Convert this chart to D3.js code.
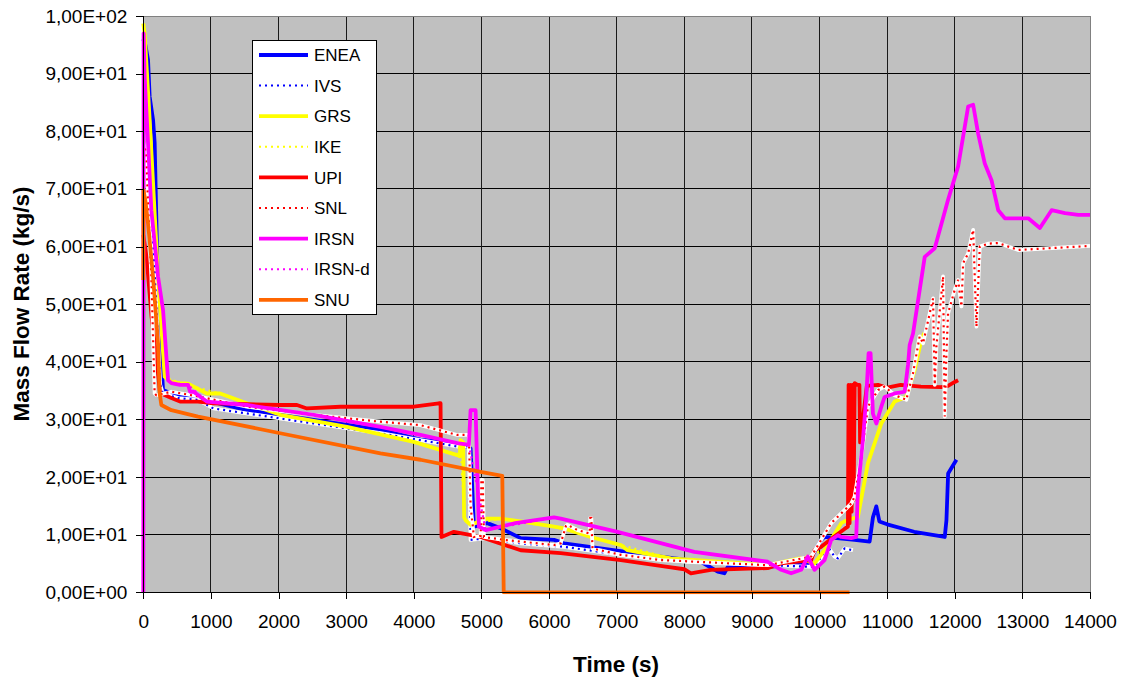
<!DOCTYPE html>
<html><head><meta charset="utf-8">
<script src="https://cdn.jsdelivr.net/npm/d3@7"></script>
<style>body{margin:0;background:#fff;} svg{display:block;}</style>
</head><body><svg id="c" width="1121" height="677"></svg>
<script>
// ---- tick data ----
const xTicks = [0,1000,2000,3000,4000,5000,6000,7000,8000,9000,10000,11000,12000,13000,14000];
const yTicks = [0,10,20,30,40,50,60,70,80,90,100];
const yTickLabels = ["0,00E+00","1,00E+01","2,00E+01","3,00E+01","4,00E+01","5,00E+01","6,00E+01","7,00E+01","8,00E+01","9,00E+01","1,00E+02"];

// ---- series meta ----
const seriesNames  = ["ENEA","IVS","GRS","IKE","UPI","SNL","IRSN","IRSN-d","SNU"];
const seriesColors = ["#0000ff","#0000ff","#ffff00","#ffff00","#ff0000","#ff0000","#ff00ff","#ff00ff","#ff6600"];
const seriesDotted = [false,true,false,true,false,true,false,true,false];

// ---- series values (time s, mass flow kg/s) ----
const eneaT = [0,30,70,94,144,168,220,292,415,662,1037,1532,2519,3507,4099,4593,4791,4840,4889,5087,5284,5580,6074,6222,7654,8247,8495,8593,8643,9235,9827,10025,10074,10519,10741,10790,10840,10885,11000,11400,11852,11877,11902,12025];
const eneaV = [96,95,92.4,86,82,78,50,35.1,34.5,33.9,33,31.6,29.9,28.2,26.5,25.9,25.2,25,11.4,12,11.1,9.4,9.1,8.5,6.2,5.3,3.6,3.3,4.4,4.4,5,9.1,9.6,9.1,8.8,13,14.9,12.3,11.8,10.5,9.6,12.5,20.6,23];

const ivsT = [0,60,150,250,292,514,810,1037,2519,3507,4099,4643,4815,4840,5087,5580,6222,7062,8050,9235,9926,10124,10222,10272,10370,10494];
const ivsV = [90,80,60,36,34.5,33.7,33.4,31.9,29.3,27.6,26.4,25.3,25.3,9.1,9.4,8.5,7.9,6.5,5.3,4.7,4.4,7.9,6.2,5.9,7.6,7.3];

const grsT = [0,20,94,218,316,415,543,662,939,1136,1532,2025,3013,4000,4643,4680,4692,4730,4745,4766,4840,5087,5284,5580,6074,6222,6617,7062,7161,7802,8888,9235,9704,9926,10074,10321,10370,10568,10716,10914,11111,11284,11407,11506,11550];
const grsV = [98.7,97,82,54.8,37.4,36.5,36.3,36.2,34.5,34.5,32.8,30.8,28.7,26.1,23.8,23.6,26.4,26,13,12.5,11.7,12.8,12.8,12.3,11.4,11.1,9.6,8.2,7.3,5.9,5,4.7,5.9,5,7.3,12,12.3,13.1,22.4,29.3,33.1,33.9,38.6,43.8,45];

const ikeT = [0,94,218,316,543,1136,2025,3013,4000,4643,4692,4745,4840,5284,6074,7062,7802,8888,9235,9704,10074,10321,10568,10716,10914,11111,11284,11407,11500];
const ikeV = [98,82,54.8,37.4,36.3,34.5,30.8,28.7,26.1,23.8,26.4,13,11.7,12.8,11.4,8.2,5.9,5,4.7,5.9,7.3,12,13.1,22.4,29.3,33.1,33.9,38.6,43.5];

const upiT = [0,50,120,200,247,415,543,810,1037,2025,2272,2420,2914,3507,4000,4370,4396,4410,4593,4988,5580,6173,7062,7700,8000,8099,8200,8395,9235,9432,9877,9926,10025,10200,10370,10420,10430,10445,10460,10475,10490,10505,10520,10560,10590,10600,10700,10865,11000,11200,11500,11800,11900,12000,12050];
const upiV = [62,58,48,40,34.6,33.7,33.1,33.1,32.8,32.5,32.5,31.9,32.2,32.2,32.2,32.8,32.8,9.6,10.5,9.6,7.3,6.8,5.6,4.5,4,3.3,3.5,3.9,4.2,5,5.6,7.3,7.9,9.5,11,11.4,36,12,36,14,36,16,36.3,36,36,26,35.8,36,35.5,36,35.7,35.6,35.8,36.5,36.8];

const snlT = [0,44,70,119,168,193,415,810,1532,2519,3507,4099,4643,4815,4840,4889,4990,5000,5020,5037,5333,6074,6173,6250,6272,6420,6600,6610,6625,6643,7062,7654,9235,9877,10173,10469,10519,10617,10716,10865,10963,11111,11284,11383,11481,11531,11679,11704,11728,11827,11852,11877,11901,12000,12050,12099,12124,12198,12272,12321,12370,12500,12643,12939,14000];
const snlV = [78,76.2,67.5,54.8,34.5,34.2,34.8,34,32.2,30.8,29.6,29,27.3,27.3,15,9.6,9.8,19.5,19.5,9.6,9.1,8.2,8.5,11.5,11.7,10.8,10.2,12.9,12.9,7.6,6.5,5.6,4.7,6.2,12,15.4,16.6,23.5,32.2,35.1,35.7,34.2,33.4,38,44.4,43.2,51,36,42.6,54.8,30.5,41.5,48.4,52.5,54.2,49.6,57.1,58.8,62.9,46.1,60,60.5,60.6,59.4,60.1];

const irsnT = [0,5,20,70,119,218,292,366,415,543,662,692,743,939,1532,2519,3507,4099,4643,4815,4840,4914,4963,5062,5500,6074,6173,7013,8148,9235,9432,9580,9728,9827,9926,10074,10173,10272,10321,10469,10543,10568,10642,10691,10726,10755,10790,10840,10914,10963,11111,11259,11309,11333,11383,11556,11704,11901,12050,12198,12272,12346,12444,12544,12643,12741,13087,13259,13432,13630,13827,14000];
const irsnV = [0,97,89.5,78,66.3,54.8,49,36.8,36.3,36,36,34.8,34.8,33.1,32.5,30.8,28.7,27.3,25.9,25.6,31.6,31.6,11.4,10.8,12,13,12.8,10.5,7,5.3,3.9,3.3,3.9,6.2,3.9,5.6,9.1,9.9,9.6,9.4,9.6,17.8,26.4,33.9,41.5,41.5,31,29.3,32.2,33.9,34.5,34.8,39.5,42.9,44.9,58.2,59.7,68.1,73.9,84.3,84.6,79.6,74.4,71.5,66.3,64.9,64.9,63.2,66.3,65.8,65.5,65.5];

const irsndT = [5,20,70,119,218,292,366,415,662,939,1532,2519,3507,4099,4643,4815,5062,6074,7013,8148,9235];
const irsndV = [97,89.5,78,66.3,54.8,49,36.8,36.3,36,33.1,32.5,30.8,28.7,27.3,25.9,25.6,10.8,13,10.5,7,5.3];

const snuT = [0,2,30,70,144,218,242,267,415,810,2025,3507,4099,4988,5309,5330,10444];
const snuV = [54.2,69.8,68,64,54.8,43.2,34.5,32.5,31.6,30.5,27.6,24.1,23,20.9,20.2,0,0];

const seriesT = [eneaT,ivsT,grsT,ikeT,upiT,snlT,irsnT,irsndT,snuT];
const seriesV = [eneaV,ivsV,grsV,ikeV,upiV,snlV,irsnV,irsndV,snuV];

// ---- layout ----
const L = 143.3, R = 1090, T = 16, B = 592.3;
const svg = d3.select("#c");
const x = d3.scaleLinear().domain([0,14000]).range([L,R]);
const y = d3.scaleLinear().domain([0,100]).range([B,T]);
const tickFont = "'Liberation Sans', Arial, sans-serif";

svg.append("rect").attr("x",L).attr("y",T).attr("width",R-L).attr("height",B-T).attr("fill","#c0c0c0");

// grid
const g = svg.append("g").attr("shape-rendering","crispEdges");
g.selectAll("line.h").data(yTicks.slice(1,-1)).join("line")
  .attr("x1",L).attr("x2",R).attr("y1",d=>y(d)).attr("y2",d=>y(d))
  .attr("stroke","#000").attr("stroke-width",1);
g.selectAll("line.v").data(xTicks.slice(1,-1)).join("line")
  .attr("y1",T).attr("y2",B).attr("x1",d=>x(d)).attr("x2",d=>x(d))
  .attr("stroke","#1a1a1a").attr("stroke-width",1);
g.append("line").attr("x1",L).attr("x2",R).attr("y1",T).attr("y2",T).attr("stroke","#808080");
g.append("line").attr("x1",R).attr("x2",R).attr("y1",T).attr("y2",B).attr("stroke","#808080");

// clip
svg.append("clipPath").attr("id","pc").append("rect").attr("x",L-3).attr("y",T).attr("width",R-L+3).attr("height",B-T+2);

const line = d3.line().x(d=>x(d[0])).y(d=>y(d[1]));
const plot = svg.append("g").attr("clip-path","url(#pc)");
seriesNames.forEach((name,i)=>{
  const pts = seriesT[i].map((t,k)=>[t, seriesV[i][k]]);
  if (seriesDotted[i]) {
    if (name === "IVS" || name === "SNL") {
      plot.append("path").attr("d",line(pts)).attr("fill","none").attr("stroke","#ffffff")
        .attr("stroke-width",3.8).attr("stroke-linejoin","round");
    }
    plot.append("path").attr("d",line(pts)).attr("fill","none").attr("stroke",seriesColors[i])
      .attr("stroke-width",2.2).attr("stroke-dasharray","2 4");
  } else {
    plot.append("path").attr("d",line(pts)).attr("fill","none").attr("stroke",seriesColors[i])
      .attr("stroke-width",3.8).attr("stroke-linejoin","round");
  }
});

// axes
const yAxis = d3.axisLeft(y).tickValues(yTicks).tickSize(7).tickPadding(9)
  .tickFormat((d,i)=>yTickLabels[i]);
const ya = svg.append("g").attr("transform",`translate(${L},0)`).call(yAxis);
const xAxis = d3.axisBottom(x).tickValues(xTicks).tickSize(7).tickPadding(15).tickFormat(d3.format("d"));
const xa = svg.append("g").attr("transform",`translate(0,${B})`).call(xAxis);
[ya,xa].forEach(a=>{
  a.select(".domain").attr("stroke","#000").attr("stroke-width",1);
  a.selectAll(".tick line").attr("stroke","#000");
  a.selectAll("text").attr("font-family",tickFont).attr("font-size",19).attr("fill","#000");
});
ya.attr("shape-rendering","crispEdges"); xa.attr("shape-rendering","crispEdges");

// titles
svg.append("text").attr("x",616).attr("y",672).attr("text-anchor","middle")
  .attr("font-family",tickFont).attr("font-weight","bold").attr("font-size",22.5).text("Time (s)");
svg.append("text").attr("transform","translate(29,304) rotate(-90)").attr("text-anchor","middle")
  .attr("font-family",tickFont).attr("font-weight","bold").attr("font-size",22.5).text("Mass Flow Rate (kg/s)");

// legend
const lg = svg.append("g");
lg.append("rect").attr("x",252.5).attr("y",40.5).attr("width",124).attr("height",274)
  .attr("fill","#fff").attr("stroke","#000").attr("stroke-width",1).attr("shape-rendering","crispEdges");
seriesNames.forEach((name,i)=>{
  const yy = 55 + i*30.6;
  lg.append("line").attr("x1",259).attr("x2",308).attr("y1",yy).attr("y2",yy)
    .attr("stroke",seriesColors[i]).attr("stroke-width",seriesDotted[i]?2:3.8)
    .attr("stroke-dasharray",seriesDotted[i]?"2 4":null);
  lg.append("text").attr("x",314).attr("y",yy).attr("dy","0.36em")
    .attr("font-family",tickFont).attr("font-size",17).text(name);
});
</script></body></html>
